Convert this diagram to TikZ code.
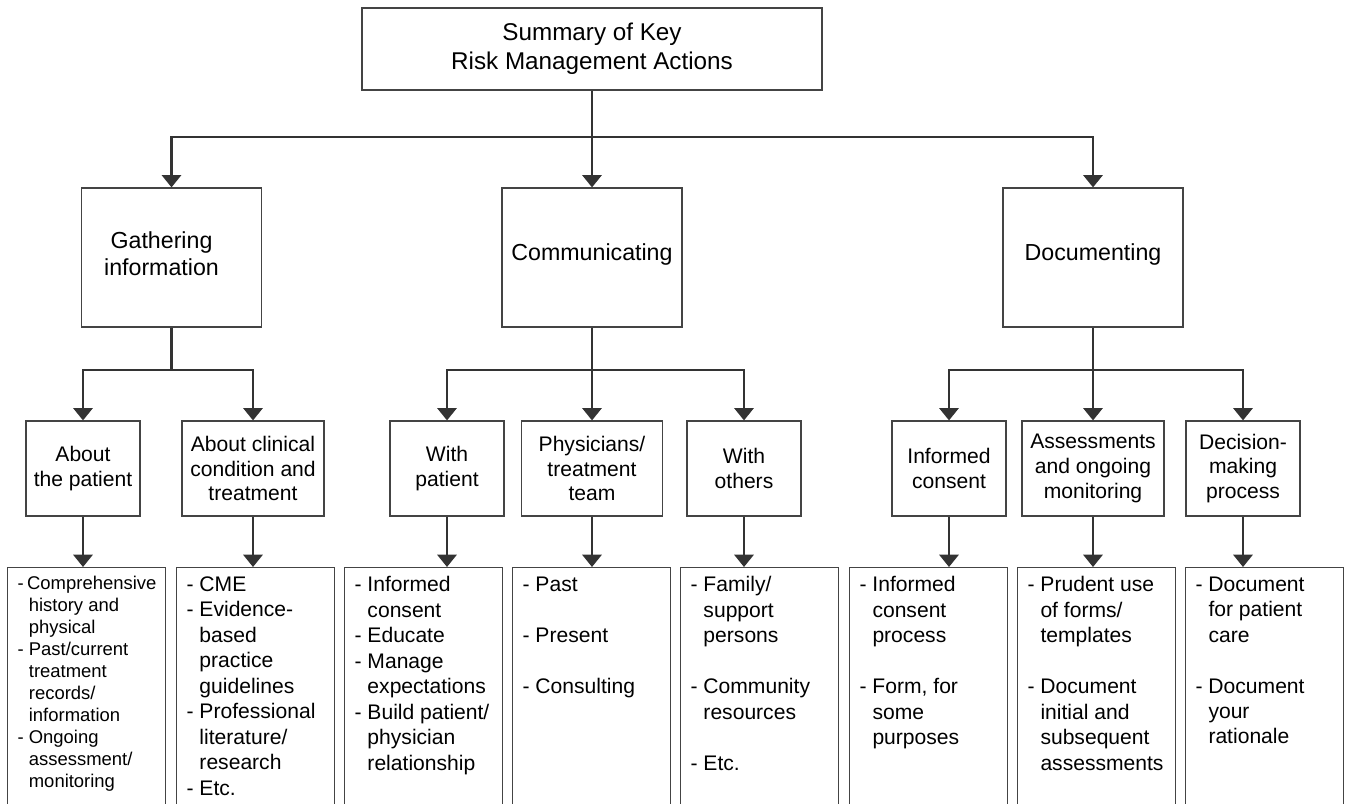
\documentclass[tikz,border=0pt]{standalone}
\usepackage{fontspec}
\setmainfont{Liberation Sans}
\usetikzlibrary{arrows.meta}
\definecolor{linegray}{HTML}{333333}
\definecolor{boxgray}{HTML}{444444}

\newcommand{\ind}{\phantom{- }}
\newcommand{\gap}{\\[\baselineskip]}
\newcommand{\leafbox}[3]{\parbox[t][4.9cm][t]{2.76cm}{\fontsize{#1}{#2}\selectfont\raggedright\hyphenpenalty=10000\exhyphenpenalty=10000 #3}}

\tikzset{
  box/.style={draw=boxgray, line width=0.7pt, inner sep=0pt, align=center},
  head/.style={box, minimum width=3.6cm, minimum height=2.78cm, font=\fontsize{13.2}{15.3}\selectfont},
  sub/.style={box, minimum height=1.9cm, font=\fontsize{12}{14.2}\selectfont},
  leaf/.style={draw=boxgray, line width=0.7pt, anchor=north west, inner xsep=0.2cm, inner ysep=0.18cm},
  link/.style={draw=linegray, line width=1.2pt, -{Triangle[width=11pt,length=7pt]}},
}

\begin{document}
\begin{tikzpicture}[x=0.02cm, y=-0.02cm]
 \useasboundingbox (0,0) rectangle (1346,804);
 \clip (0,0) rectangle (1346,804);

 % top
 \node[box, minimum width=9.2cm, minimum height=1.64cm, font=\fontsize{13.8}{16.5}\selectfont] (top) at (592,49) {Summary of Key\\Risk Management Actions};

 % headings
 \node[head, text depth=4.5pt] (gath) at (171.5,257.5) {Gathering\hspace*{0.4cm}\\information\hspace*{0.4cm}};
 \node[head, text depth=6.5pt] (comm) at (592,257.5) {Communicating};
 \node[head, text depth=6.5pt] (docu) at (1093,257.5) {Documenting};

 % second row
 \node[sub, minimum width=2.28cm] (pat)  at (83,468.5)   {About\\the patient};
 \node[sub, minimum width=2.84cm] (clin) at (253,468.5)  {About clinical\\condition and\\treatment};
 \node[sub, minimum width=2.28cm] (wpat) at (447,468.5)  {With\\patient};
 \node[sub, minimum width=2.82cm] (phys) at (592,468.5)  {Physicians/\\treatment\\team};
 \node[sub, minimum width=2.28cm] (woth) at (744,468.5)  {With\\others};
 \node[sub, minimum width=2.28cm] (icon) at (949,468.5)  {Informed\\consent};
 \node[sub, minimum width=2.84cm] (asse) at (1093,468.5) {Assessments\\and ongoing\\monitoring};
 \node[sub, minimum width=2.28cm] (deci) at (1243,468.5) {Decision-\\making\\process};

 % lists
 \node[leaf] (l1) at (7,567)    {\leafbox{10.5}{12.5}{-~Comprehensive\\\ind history and\\\ind physical\\- Past/current\\\ind treatment\\\ind records/\\\ind information\\- Ongoing\\\ind assessment/\\\ind monitoring}};
 \node[leaf] (l2) at (176,567)  {\leafbox{12}{14.5}{- CME\\- Evidence-\\\ind based\\\ind practice\\\ind guidelines\\- Professional\\\ind literature/\\\ind research\\- Etc.}};
 \node[leaf] (l3) at (344,567)  {\leafbox{12}{14.5}{- Informed\\\ind consent\\- Educate\\- Manage\\\ind expectations\\- Build patient/\\\ind physician\\\ind relationship}};
 \node[leaf] (l4) at (512,567)  {\leafbox{12}{14.5}{- Past\gap- Present\gap- Consulting}};
 \node[leaf] (l5) at (680,567)  {\leafbox{12}{14.5}{- Family/\\\ind support\\\ind persons\gap- Community\\\ind resources\gap- Etc.}};
 \node[leaf] (l6) at (849,567)  {\leafbox{12}{14.5}{- Informed\\\ind consent\\\ind process\gap- Form, for\\\ind some\\\ind purposes}};
 \node[leaf] (l7) at (1017,567) {\leafbox{12}{14.5}{- Prudent use\\\ind of forms/\\\ind templates\gap- Document\\\ind initial and\\\ind subsequent\\\ind assessments}};
 \node[leaf] (l8) at (1185,567) {\leafbox{12}{14.5}{- Document\\\ind for patient\\\ind care\gap- Document\\\ind your\\\ind rationale}};

 % connectors
 \draw[link] (top.south) -- ++(0,46) -| (gath);
 \draw[link] (top) -- (comm);
 \draw[link] (top.south) -- ++(0,46) -| (docu);

 \draw[link] (gath.south) -- ++(0,42) -| (pat);
 \draw[link] (gath.south) -- ++(0,42) -| (clin);
 \draw[link] (comm.south) -- ++(0,42) -| (wpat);
 \draw[link] (comm) -- (phys);
 \draw[link] (comm.south) -- ++(0,42) -| (woth);
 \draw[link] (docu.south) -- ++(0,42) -| (icon);
 \draw[link] (docu) -- (asse);
 \draw[link] (docu.south) -- ++(0,42) -| (deci);

 \foreach \a/\b in {pat/l1, clin/l2, wpat/l3, phys/l4, woth/l5, icon/l6, asse/l7, deci/l8}
  \draw[link] (\a) -- (\a |- \b.north);
\end{tikzpicture}
\end{document}
